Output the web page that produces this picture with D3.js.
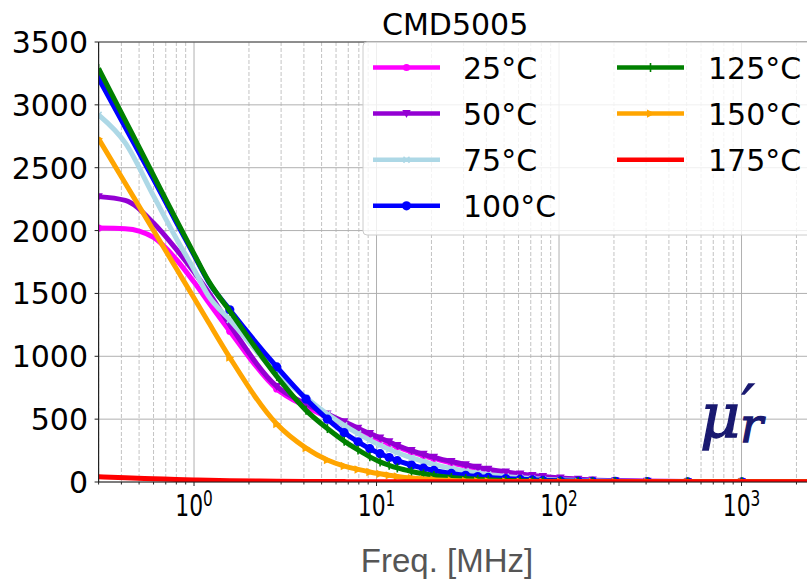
<!DOCTYPE html>
<html><head><meta charset="utf-8">
<script src="https://cdn.jsdelivr.net/npm/d3@7/dist/d3.min.js"></script>
<style>body{margin:0;background:#fff}svg{display:block}</style>
</head><body><svg id="c" width="807" height="580"></svg>
<script>
// ---------------- data ----------------
const freq = [0.3, 0.42, 0.6, 0.8, 1.0, 1.2, 1.57, 2.84, 4.11, 5.38, 6.65, 7.92, 9.19, 10.46, 11.73, 13.0, 15.54, 18.08, 20.62, 25.7, 30.78, 35.86, 40.94, 51.1, 61.26, 71.42, 81.58, 101.9, 127.3, 152.7, 203.5, 304.8, 507.3, 1004, 3000];
const mu25  = [2020, 2015, 1945, 1770, 1590, 1430, 1200, 740, 600, 515, 455, 405, 365, 333, 305, 280, 240, 210, 186, 152, 127, 108, 93, 72, 57, 46, 38, 27, 19, 14, 9, 5, 3, 2, 1];
const mu50  = [2270, 2240, 2060, 1850, 1670, 1510, 1250, 760, 620, 540, 480, 428, 385, 350, 320, 290, 250, 220, 196, 163, 137, 117, 101, 80, 64, 52, 43, 31, 22, 16, 10, 5, 3, 2, 1];
const mu75  = [2920, 2697, 2276, 1937, 1690, 1480, 1290, 865, 670, 540, 450, 385, 333, 292, 260, 233, 193, 163, 140, 108, 86, 71, 59, 44, 34, 27, 22, 16, 12, 9, 6, 4, 2, 1, 1];
const mu100 = [3210, 2822, 2407, 2066, 1805, 1592, 1370, 915, 660, 500, 392, 320, 265, 225, 195, 170, 135, 110, 92, 68, 53, 43, 36, 27, 21, 17, 14, 10, 8, 6, 5, 3, 2, 1, 1];
const mu125 = [3290, 2877, 2439, 2085, 1815, 1600, 1360, 840, 570, 425, 325, 255, 200, 160, 133, 112, 84, 65, 52, 36, 27, 21, 17, 12, 9, 7, 6, 5, 4, 3, 3, 2, 2, 1, 1];
const mu150 = [2730, 2377, 2001, 1698, 1463, 1270, 990, 461, 270, 175, 127, 100, 80, 65, 53, 44, 31, 23, 18, 12, 8, 6, 5, 4, 3, 3, 2, 2, 1, 1, 1, 1, 1, 1, 1];
const mu175 = [42, 33, 26, 20, 16, 13, 10, 6, 4, 3, 3, 2, 2, 2, 2, 2, 1, 1, 1, 1, 1, 1, 1, 1, 1, 1, 1, 1, 1, 1, 1, 1, 1, 1, 1];
const seriesLabels = ["25°C", "50°C", "75°C", "100°C", "125°C", "150°C", "175°C"];
const seriesColors = ["#ff00ff", "#9400d3", "#add8e6", "#0000ff", "#008000", "#ffa500", "#ff0000"];
const seriesMarkers = ["circle", "triDown", "x", "bigCircle", "vline", "triRight", "none"];
const yTicks = [0, 500, 1000, 1500, 2000, 2500, 3000, 3500];
const xTickExps = [0, 1, 2, 3];
const titleText = "CMD5005";
const xLabelText = "Freq. [MHz]";
const allSeries = [mu25, mu50, mu75, mu100, mu125, mu150, mu175];

// ---------------- layout ----------------
const L = 98.6, T = 42, B = 482, R = 828.6;
const svg = d3.select("#c");
const x = d3.scaleLog().domain([0.3, 3000]).range([L, R]);
const y = d3.scaleLinear().domain([0, 3500]).range([B, T]);

svg.append("defs").append("clipPath").attr("id", "plotclip")
  .append("rect").attr("x", L).attr("y", T).attr("width", R - L).attr("height", B - T);

// grid
const minorX = [];
for (let e = -1; e <= 3; e++) for (let m = 2; m <= 9; m++) {
  const v = m * Math.pow(10, e);
  if (v > 0.3 && v < 3000) minorX.push(v);
}
const grid = svg.append("g");
grid.selectAll(".mx").data(minorX).join("line")
  .attr("x1", d => x(d)).attr("x2", d => x(d)).attr("y1", T).attr("y2", B)
  .attr("stroke", "#b4b4b4").attr("stroke-width", 0.8).attr("stroke-dasharray", "4,2");
grid.selectAll(".Mx").data(xTickExps.map(e => Math.pow(10, e))).join("line")
  .attr("x1", d => x(d)).attr("x2", d => x(d)).attr("y1", T).attr("y2", B)
  .attr("stroke", "#b0b0b0").attr("stroke-width", 1);
grid.selectAll(".My").data(yTicks).join("line")
  .attr("x1", L).attr("x2", R).attr("y1", d => y(d)).attr("y2", d => y(d))
  .attr("stroke", "#b0b0b0").attr("stroke-width", 1);

// series
function drawMarker(g, type, color, cx, cy) {
  if (type === "circle") g.append("circle").attr("cx", cx).attr("cy", cy).attr("r", 3.6).attr("fill", color);
  else if (type === "bigCircle") g.append("circle").attr("cx", cx).attr("cy", cy).attr("r", 4.6).attr("fill", color);
  else if (type === "triDown") g.append("path").attr("d", `M${cx-4.2},${cy-3.5}L${cx+4.2},${cy-3.5}L${cx},${cy+4.5}Z`).attr("fill", color);
  else if (type === "triRight") g.append("path").attr("d", `M${cx-3.5},${cy-4.2}L${cx-3.5},${cy+4.2}L${cx+4.5},${cy}Z`).attr("fill", color);
  else if (type === "x") g.append("path").attr("d", `M${cx-3},${cy-3}L${cx+3},${cy+3}M${cx-3},${cy+3}L${cx+3},${cy-3}`).attr("stroke", color).attr("stroke-width", 1.6);
  else if (type === "vline") g.append("path").attr("d", `M${cx},${cy-4.5}L${cx},${cy+4.5}`).attr("stroke", color).attr("stroke-width", 1.6);
}
const line = d3.line().x(d => x(d[0])).y(d => y(d[1])).curve(d3.curveMonotoneX);
const plot = svg.append("g").attr("clip-path", "url(#plotclip)");
allSeries.forEach((vals, i) => {
  const pts = freq.map((f, j) => [f, vals[j]]);
  const g = plot.append("g");
  g.append("path").attr("d", line(pts)).attr("fill", "none")
    .attr("stroke", seriesColors[i]).attr("stroke-width", 5).attr("stroke-linejoin", "round");
  pts.forEach(p => {
    if (p[0] === freq[0] || p[0] >= 1.5) drawMarker(g, seriesMarkers[i], seriesColors[i], x(p[0]), y(p[1]));
  });
});

// spines
svg.append("line").attr("x1", L).attr("x2", L).attr("y1", T).attr("y2", B).attr("stroke", "#222").attr("stroke-width", 1.2);
svg.append("line").attr("x1", L).attr("x2", R).attr("y1", B).attr("y2", B).attr("stroke", "#222").attr("stroke-width", 1.2);
svg.append("line").attr("x1", L).attr("x2", R).attr("y1", T).attr("y2", T).attr("stroke", "#444").attr("stroke-width", 1);

// y ticks
const yax = svg.append("g");
yTicks.forEach(t => {
  yax.append("line").attr("x1", L - 4).attr("x2", L).attr("y1", y(t)).attr("y2", y(t)).attr("stroke", "#222");
  yax.append("text").attr("x", 88).attr("y", y(t) + 11).attr("text-anchor", "end")
    .attr("font-family", "DejaVu Sans").attr("font-size", 30).attr("fill", "#000").text(t);
});
// x ticks
const xax = svg.append("g");
minorX.forEach(v => xax.append("line").attr("x1", x(v)).attr("x2", x(v)).attr("y1", B).attr("y2", B + 2.5).attr("stroke", "#222"));
xTickExps.forEach(e => {
  const v = Math.pow(10, e);
  xax.append("line").attr("x1", x(v)).attr("x2", x(v)).attr("y1", B).attr("y2", B + 4).attr("stroke", "#222");
  const t = xax.append("g").attr("transform", `translate(${x(v)},516) scale(0.73,1)`)
    .append("text").attr("text-anchor", "middle").attr("font-family", "DejaVu Sans").attr("fill", "#000");
  t.append("tspan").attr("font-size", 30).text("10");
  t.append("tspan").attr("font-size", 21).attr("dy", -10.5).text(e);
});
// x label
svg.append("text").attr("x", 447).attr("y", 571.5).attr("text-anchor", "middle")
  .attr("font-family", "Liberation Sans, Arial, sans-serif")
  .attr("font-size", 33).attr("fill", "#555").text(xLabelText);

// legend
const lg = svg.append("g");
lg.append("rect").attr("x", 363).attr("y", 42).attr("width", 470).attr("height", 193).attr("rx", 4)
  .attr("fill", "#fff").attr("fill-opacity", 0.8).attr("stroke", "#ccc").attr("stroke-width", 1);
seriesLabels.forEach((lab, i) => {
  const col = i < 4 ? 0 : 1, row = i < 4 ? i : i - 4;
  const lx = col === 0 ? 373 : 617, tx = col === 0 ? 463 : 708, ry = 67.5 + row * 46.1;
  lg.append("line").attr("x1", lx).attr("x2", lx + 67).attr("y1", ry).attr("y2", ry)
    .attr("stroke", seriesColors[i]).attr("stroke-width", 4.5);
  drawMarker(lg, seriesMarkers[i], seriesColors[i], lx + 33.5, ry);
  lg.append("text").attr("x", tx).attr("y", ry + 11).attr("font-family", "DejaVu Sans")
    .attr("font-size", 30).attr("fill", "#000").text(lab);
});
svg.append("text").attr("x", 382).attr("y", 35).attr("font-family", "DejaVu Sans")
  .attr("font-size", 30).attr("fill", "#000").text(titleText);

// mu'_r annotation (single text with tspans)
const mu = svg.append("text").attr("fill", "#191970").attr("stroke", "#191970").attr("stroke-width", 1.3)
  .attr("font-family", "DejaVu Serif").attr("font-style", "italic");
mu.append("tspan").attr("x", 700).attr("y", 437).attr("font-size", 62).text("μ");
mu.append("tspan").attr("x", 742).attr("y", 424).attr("font-size", 54).text("′");
mu.append("tspan").attr("x", 740).attr("y", 442).attr("font-size", 48).text("r");
</script></body></html>
